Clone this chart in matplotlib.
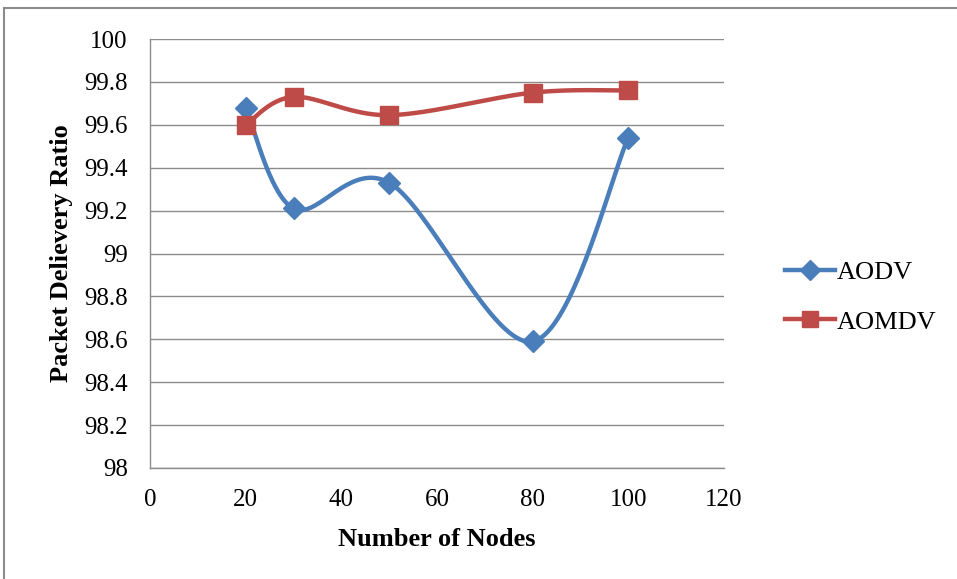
import numpy as np
import matplotlib
matplotlib.use("Agg")
import matplotlib.pyplot as plt
from matplotlib.lines import Line2D

nodes = [20, 30, 50, 80, 100]
aodv = [99.68, 99.21, 99.33, 98.59, 99.54]
aomdv = [99.60, 99.73, 99.645, 99.75, 99.76]
xticks = [0, 20, 40, 60, 80, 100, 120]
yticks = [98, 98.2, 98.4, 98.6, 98.8, 99, 99.2, 99.4, 99.6, 99.8, 100]
ytick_labels = ["98", "98.2", "98.4", "98.6", "98.8", "99", "99.2", "99.4", "99.6", "99.8", "100"]

plt.rcParams['font.family'] = ['Liberation Serif', 'DejaVu Serif']


def excel_smooth(x, y, n=40):
    x = np.asarray(x, float)
    y = np.asarray(y, float)
    px = np.concatenate([[x[0]], x, [x[-1]]])
    py = np.concatenate([[y[0]], y, [y[-1]]])
    xs, ys = [], []
    t = np.linspace(0, 1, n)
    for i in range(1, len(px) - 2):
        p0 = np.array([px[i], py[i]])
        p3 = np.array([px[i + 1], py[i + 1]])
        c1 = p0 + (np.array([px[i + 1], py[i + 1]]) - np.array([px[i - 1], py[i - 1]])) / 6
        c2 = p3 - (np.array([px[i + 2], py[i + 2]]) - np.array([px[i], py[i]])) / 6
        b = ((1 - t) ** 3)[:, None] * p0 + (3 * (1 - t) ** 2 * t)[:, None] * c1 + \
            (3 * (1 - t) * t ** 2)[:, None] * c2 + (t ** 3)[:, None] * p3
        xs.extend(b[:, 0]); ys.extend(b[:, 1])
    return np.array(xs), np.array(ys)


fig = plt.figure(figsize=(9.57, 5.79), dpi=100)
ax = fig.add_axes([150 / 957, 1 - 468 / 579, (724 - 150) / 957, (468 - 39) / 579])

blue = '#4a7ebb'
red = '#be4b48'

sx, sy = excel_smooth(nodes, aodv)
ax.plot(sx, sy, color=blue, lw=3.2, zorder=3)
ax.plot(nodes, aodv, linestyle='none', marker='D', ms=11, color=blue, zorder=4)
sx, sy = excel_smooth(nodes, aomdv)
ax.plot(sx, sy, color=red, lw=3.2, zorder=3)
ax.plot(nodes, aomdv, linestyle='none', marker='s', ms=13, color=red, zorder=4)

ax.set_xlim(0, 120)
ax.set_ylim(98, 100)
ax.set_xticks(xticks)
ax.set_yticks(yticks)
ax.set_yticklabels(ytick_labels)
ax.tick_params(length=0, labelsize=18)
ax.tick_params(axis='y', pad=16)
ax.tick_params(axis='x', pad=15)
ax.grid(axis='y', color='#8c8c8c', lw=1)
ax.set_axisbelow(True)
for s in ['top', 'right']:
    ax.spines[s].set_visible(False)
for s in ['left', 'bottom']:
    ax.spines[s].set_color('#8c8c8c')
    ax.spines[s].set_linewidth(1)

ax.set_xlabel('Number of Nodes', fontsize=19, fontweight='bold', labelpad=12)
ax.set_ylabel('Packet Delievery Ratio', fontsize=19, fontweight='bold', labelpad=8)

handles = [Line2D([], [], color=blue, lw=3.2, marker='D', ms=10),
           Line2D([], [], color=red, lw=3.2, marker='s', ms=12)]
fig.legend(handles, ['AODV', 'AOMDV'], loc='center left',
           bbox_to_anchor=(785 / 957, 1 - 297 / 579), frameon=False,
           fontsize=19, handlelength=1.9, labelspacing=1.0, handletextpad=0.05,
           borderpad=0, borderaxespad=0)

fig.add_artist(Line2D([4 / 957, 4 / 957], [0, 1 - 8 / 579], transform=fig.transFigure, color='#8c8c8c', lw=1.5))
fig.add_artist(Line2D([4 / 957, 1], [1 - 8 / 579, 1 - 8 / 579], transform=fig.transFigure, color='#8c8c8c', lw=1.5))

fig.savefig('out.png', dpi=100)
